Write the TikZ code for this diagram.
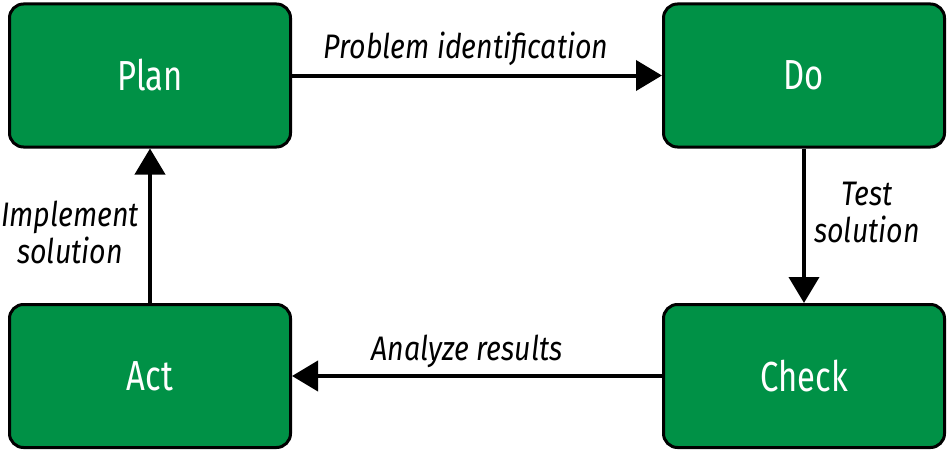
\documentclass[tikz,border=0pt]{standalone}
\usepackage{fontspec}
\setmainfont{Fira Sans}[FakeStretch=0.78]
\newfontfamily\lblfont{Fira Sans}[FakeStretch=0.84]
\usepackage{xcolor}
\usepackage{tikz}
\usetikzlibrary{arrows.meta}

\definecolor{stagegreen}{RGB}{0,145,70}

\tikzset{
    stage/.style={draw=black, line width=3pt, fill=stagegreen, rounded corners=14pt,
        minimum width=281pt, minimum height=143pt, inner sep=0pt,
        text=white, font=\fontsize{42}{48}\selectfont},
    flow/.style={line width=4pt, -{Triangle[length=26pt, width=30pt]}},
    lbl/.style={font=\lblfont\fontsize{34}{37}\selectfont\itshape, align=center, inner sep=0pt}
}

\begin{document}
\begin{tikzpicture}[x=1pt, y=-1pt]
    \useasboundingbox (0,0) rectangle (947,452);
    \foreach \name/\txt/\x/\y in {plan/Plan/150/75.5, do/Do/804/75.5, act/Act/150/376, check/Check/804/376}{
        \node[stage] (\name) at (\x,\y) {\txt};
    }
    \draw[flow] (plan) -- node[lbl, anchor=base, xshift=-11pt, yshift=16.5pt] {Problem identification} (do);
    \draw[flow] (do) -- node[lbl, xshift=63pt, yshift=13pt] {Test\\solution} (check);
    \draw[flow] (check) -- node[lbl, anchor=base, xshift=-10pt, yshift=16pt] {Analyze results} (act);
    \draw[flow] (act) -- node[lbl, xshift=-80pt, yshift=-7pt] {Implement\\solution} (plan);
\end{tikzpicture}
\end{document}
